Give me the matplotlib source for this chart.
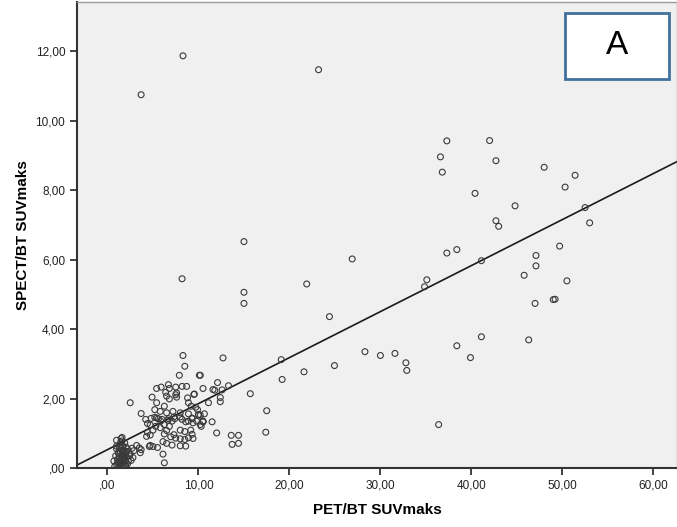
import matplotlib
matplotlib.use("Agg")
import matplotlib.pyplot as plt
import numpy as np
from matplotlib.patches import Rectangle

# PET/BT SUVmaks (x) vs SPECT/BT SUVmaks (y)
pet = [
    # cluster near the origin
    0.8, 1.0, 1.2, 1.4, 1.6, 1.8, 2.0, 1.1, 1.3, 1.5, 1.7, 1.9, 2.1, 2.3, 0.9,
    1.2, 1.4, 1.6, 1.8, 2.0, 2.2, 2.5, 1.0, 1.3, 1.5, 1.7, 1.9, 1.5, 1.6, 1.0,
    1.45, 2.6, 2.8, 0.7, 1.1, 1.75, 2.2, 1.35, 2.4, 1.55, 1.25, 1.95, 2.05, 1.65, 1.85,
    2.1, 2.7, 3.2, 3.7, 3.6, 2.9, 3.5, 1.0, 1.45, 1.6,
    1.3, 1.7, 2.0, 1.5, 1.9, 1.2,
    # low x, mid y
    4.6, 5.5, 4.7, 5.0, 6.1, 6.25, 4.4, 4.7, 4.3, 3.7, 4.2, 4.8, 4.4, 4.7, 5.3,
    5.8, 5.0, 2.5, 4.9, 5.2, 5.6, 5.85, 6.65, 7.1, 7.3, 8.0, 8.6, 8.9, 9.3, 9.4,
    10.0, 10.2, 10.5, 6.25, 6.8, 6.5, 6.25, 8.0, 8.5, 9.15, 9.3, 7.3, 7.5, 6.95,
    8.0, 8.5, 8.9, 9.4, 6.1, 6.5, 7.1, 8.0, 8.6,
    5.4, 6.0, 6.7, 7.4, 8.2, 9.3, 9.8, 10.5, 11.5,
    5.2, 5.8, 6.5, 7.2, 8.0, 8.9, 10.0, 10.65,
    5.4, 6.25, 8.9, 9.2, 9.7, 9.9, 11.1,
    6.5, 6.8, 7.5, 7.6, 8.8, 9.55,
    5.9, 5.4, 6.7, 6.8, 7.5, 8.2, 8.7, 10.5, 11.6,
    7.9, 10.1, 8.5, 8.3, 12.7,
    6.4, 7.6, 9.5, 10.5, 10.3, 10.2, 10.2,
    12.1, 11.8, 12.6, 13.3, 12.4, 12.4, 12.0, 13.6, 14.4, 13.7, 14.4,
    15.7, 17.5, 17.4,
    # mid x
    15.0, 15.0, 15.0, 26.9, 21.9, 24.4, 28.3, 30.0, 31.6, 32.8, 32.9,
    19.1, 24.95, 21.6, 19.2, 36.4,
    # high x
    37.3, 42.0, 36.6, 42.7, 36.8, 48.0, 51.4, 50.3, 40.4, 44.8, 52.5, 53.0,
    42.7, 43.0, 49.7, 37.3, 38.4, 41.1, 47.1, 47.1, 50.5, 45.8, 35.1, 34.85,
    47.0, 49.0, 49.2, 41.1, 38.4, 46.3, 39.9,
    # outliers
    8.3, 23.2, 3.7, 8.2,
]
spect = [
    0.05, 0.10, 0.00, 0.12, 0.05, 0.15, 0.08, 0.25, 0.30, 0.22, 0.35, 0.28, 0.32, 0.20, 0.35,
    0.42, 0.48, 0.40, 0.50, 0.45, 0.55, 0.40, 0.55, 0.60, 0.68, 0.62, 0.72, 0.85, 0.78, 0.63,
    0.60, 0.22, 0.30, 0.20, 0.15, 0.02, 0.12, 0.05, 0.35, 0.32, 0.18, 0.20, 0.60, 0.50, 0.40,
    0.48, 0.57, 0.65, 0.53, 0.44, 0.50, 0.58, 0.80, 0.75, 0.88,
    0.10, 0.25, 0.38, 0.15, 0.05, 0.45,
    0.62, 0.59, 0.65, 0.62, 0.40, 0.15, 1.03, 0.95, 0.91, 1.57, 1.40, 1.43, 1.28, 1.24, 1.20,
    1.16, 1.09, 1.88, 2.04, 1.46, 1.42, 1.35, 1.37, 1.35, 1.47, 1.47, 1.33, 1.35, 1.42, 1.30,
    1.54, 1.25, 1.33, 0.98, 1.20, 1.08, 1.25, 1.09, 1.05, 1.09, 0.97, 0.96, 0.86, 0.90,
    0.84, 0.82, 0.87, 0.85, 0.76, 0.71, 0.66, 0.64, 0.63,
    1.44, 1.40, 1.42, 1.42, 1.40, 1.44, 1.35, 1.35, 1.33,
    1.68, 1.63, 1.59, 1.63, 1.59, 1.56, 1.52, 1.56,
    1.88, 1.78, 1.88, 1.78, 1.75, 1.68, 1.88,
    2.07, 1.99, 2.11, 2.04, 2.02, 2.13,
    2.33, 2.29, 2.40, 2.29, 2.33, 2.35, 2.35, 2.29, 2.26,
    2.67, 2.67, 2.93, 3.24, 3.17,
    2.18, 2.16, 2.12, 1.33, 1.20, 1.52, 2.67,
    2.46, 2.24, 2.25, 2.37, 2.03, 1.91, 1.01, 0.94, 0.94, 0.68, 0.71,
    2.14, 1.65, 1.03,
    6.52, 5.06, 4.74, 6.02, 5.30, 4.36, 3.35, 3.24, 3.30, 3.03, 2.81,
    3.12, 2.95, 2.77, 2.55, 1.25,
    9.42, 9.43, 8.96, 8.85, 8.52, 8.66, 8.43, 8.09, 7.91, 7.55, 7.50, 7.06,
    7.12, 6.96, 6.39, 6.19, 6.29, 5.97, 6.12, 5.82, 5.39, 5.55, 5.42, 5.22,
    4.74, 4.85, 4.86, 3.78, 3.52, 3.69, 3.18,
    11.87, 11.47, 10.75, 5.45,
]

x_ticks = [0, 10, 20, 30, 40, 50, 60]
x_labels = [",00", "10,00", "20,00", "30,00", "40,00", "50,00", "60,00"]
y_ticks = [0, 2, 4, 6, 8, 10, 12]
y_labels = [",00", "2,00", "4,00", "6,00", "8,00", "10,00", "12,00"]

plt.rcParams["font.family"] = ["Liberation Sans", "DejaVu Sans"]

fig = plt.figure(figsize=(6.77, 5.27), dpi=100)
ax = fig.add_axes([77 / 677, 59 / 527, 600 / 677, 466 / 527])
ax.set_facecolor("#f0f0f0")

x = np.array(pet)
y = np.array(spect)
ax.scatter(x, y, s=18, facecolors="none", edgecolors="#3a3a3a", linewidths=0.8, zorder=3)

# droite de régression
xmin, xmax = -3.35, 62.6
b, a = np.polyfit(x, y, 1)
xl = np.array([xmin, xmax])
ax.plot(xl, a + b * xl, color="#1a1a1a", lw=1.2, zorder=2)

ax.set_xlim(xmin, xmax)
ax.set_ylim(0, 13.42)
ax.set_xticks(x_ticks)
ax.set_xticklabels(x_labels)
ax.set_yticks(y_ticks)
ax.set_yticklabels(y_labels)
ax.tick_params(labelsize=8.5, colors="#222222", length=5, width=1.2)

for s in ["left", "bottom"]:
    ax.spines[s].set_color("#333333")
    ax.spines[s].set_linewidth(1.5)
for s in ["top", "right"]:
    ax.spines[s].set_color("#999999")
    ax.spines[s].set_linewidth(1.0)

ax.set_xlabel("PET/BT SUVmaks", fontsize=11, fontweight="bold", labelpad=8)
ax.set_ylabel("SPECT/BT SUVmaks", fontsize=11, fontweight="bold", labelpad=4)

ax.add_patch(Rectangle((0.813, 0.835), 0.173, 0.142, transform=ax.transAxes,
                       facecolor="white", edgecolor="#41719c", lw=2, zorder=5))
ax.text(0.9, 0.906, "A", transform=ax.transAxes, ha="center", va="center",
        fontsize=24, zorder=6)

fig.savefig("out.png", dpi=100)
